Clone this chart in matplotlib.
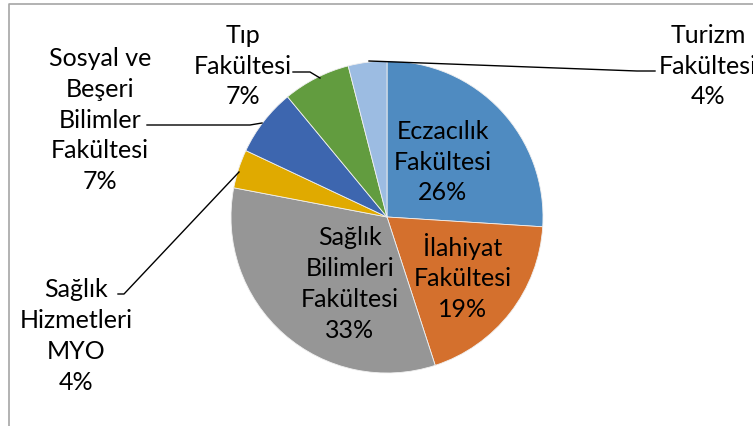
import matplotlib
matplotlib.use("Agg")
import matplotlib.pyplot as plt

labels = ["Eczacılık\nFakültesi", "İlahiyat\nFakültesi", "Sağlık\nBilimleri\nFakültesi",
          "Sağlık\nHizmetleri\nMYO", "Sosyal ve\nBeşeri\nBilimler\nFakültesi",
          "Tıp\nFakültesi", "Turizm\nFakültesi"]
shares = [26, 19, 33, 4, 7, 7, 4]
colors = ["#4F8BC1", "#D4702D", "#969696", "#E0AA00", "#3D66AF", "#629C3F", "#9CBCE2"]

W, H = 753, 427
fig = plt.figure(figsize=(W / 100, H / 100), dpi=100)
ax = fig.add_axes([0, 0, 1, 1])

# pixel coords with y measured from the top
def py(y):
    return H - y

cx, cy, r = 387, 218, 156
ax.pie(shares, colors=colors, startangle=90, counterclock=False,
       center=(cx, py(cy)), radius=r, frame=True,
       wedgeprops=dict(edgecolor="#f0f0f0", linewidth=0.6))
ax.set_xlim(0, W)
ax.set_ylim(0, H)
ax.set_aspect("equal")
ax.axis("off")

# label centres (pixels), same order as shares
label_pos = [(443, 162), (463, 277), (350, 284), (76, 336),
             (100, 120), (243, 66), (708, 66)]
font = dict(family=["Lato", "DejaVu Sans"], fontsize=18, color="black",
            ha="center", va="center", linespacing=1.42)
for lab, s, (x, y) in zip(labels, shares, label_pos):
    ax.text(x, py(y), f"{lab}\n{s}%", **font)

# leader lines for the outside labels
leaders = [
    [(118, 295), (124, 295), (239, 173)],
    [(147, 126), (250, 126), (262, 124)],
    [(293, 73), (310, 73), (320, 79)],
    [(369, 62), (637, 72), (655, 72)],
]
for pts in leaders:
    ax.plot([p[0] for p in pts], [py(p[1]) for p in pts], color="black", lw=1.0)

# chart border (partly cropped in the original)
ax.plot([9, 9, W + 5], [py(H + 5), py(5), py(5)], color="#A6A6A6", lw=1.2,
        clip_on=False)

fig.savefig("out.png", dpi=100)
